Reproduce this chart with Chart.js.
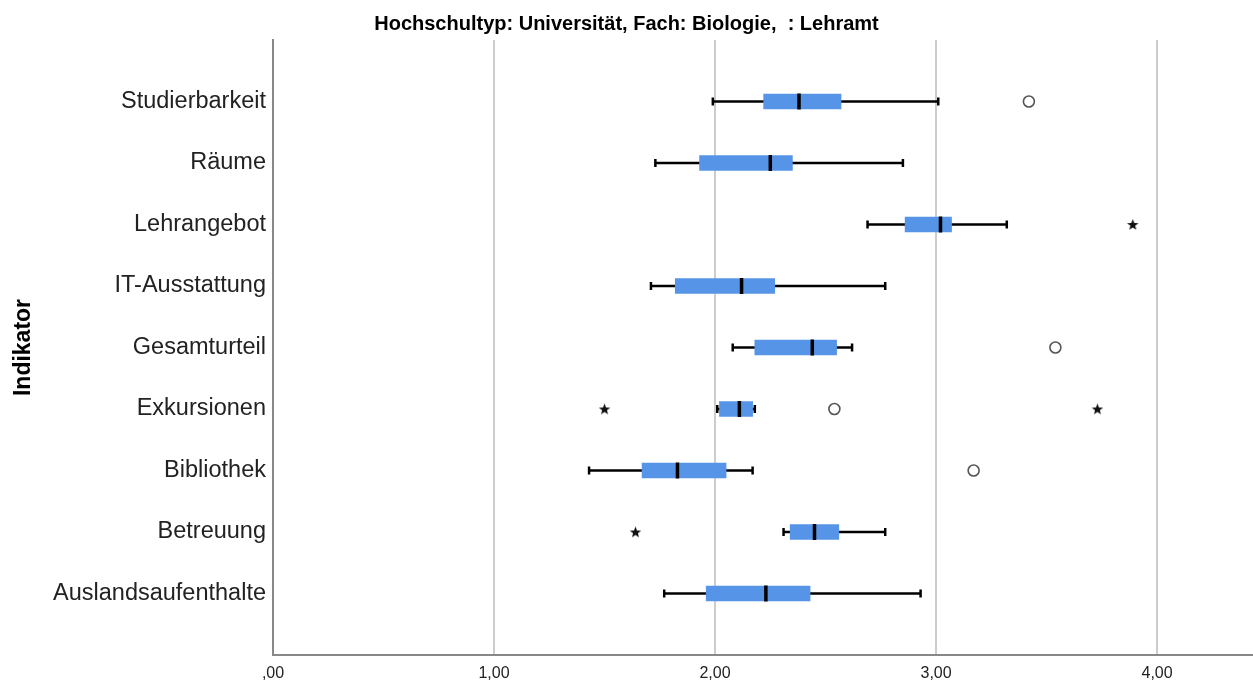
<!DOCTYPE html>
<html lang="de">
<head>
  <meta charset="UTF-8" />
  <title>Boxplot Indikatoren</title>
  <script src="https://cdn.jsdelivr.net/npm/chart.js"></script>
  <style>
    html, body {
      margin: 0;
      overflow: hidden;
      background: #fff;
    }

    .wrap {
      position: relative;
      width: 1253px;
      height: 684px;
    }

    canvas {
      display: block;
    }
  </style>
</head>
<body>

  <div class="wrap">
    <canvas id="boxChart"></canvas>
  </div>

  <script>
    const categories = ['Studierbarkeit', 'Räume', 'Lehrangebot', 'IT-Ausstattung', 'Gesamturteil',
      'Exkursionen', 'Bibliothek', 'Betreuung', 'Auslandsaufenthalte'];

    const whiskerLow  = [1.99, 1.73, 2.69, 1.71, 2.08, 2.01, 1.43, 2.31, 1.77];
    const q1          = [2.22, 1.93, 2.86, 1.82, 2.18, 2.02, 1.67, 2.34, 1.96];
    const median      = [2.38, 2.25, 3.02, 2.12, 2.44, 2.11, 1.83, 2.45, 2.23];
    const q3          = [2.57, 2.35, 3.07, 2.27, 2.55, 2.17, 2.05, 2.56, 2.43];
    const whiskerHigh = [3.01, 2.85, 3.32, 2.77, 2.62, 2.18, 2.17, 2.77, 2.93];

    // circles = outliers, stars = extreme values
    const outliers = [[3.42], [], [], [], [3.54], [2.54], [3.17], [], []];
    const extremes = [[], [], [3.89], [], [], [1.50, 3.73], [], [1.64], []];

    const xTicks = [0, 1, 2, 3, 4];
    const xMax = 4.434;

    // rows sit at 1..9 on a 0..10 axis
    const rowPos = i => i + 1;

    const boxData = categories.map((c, i) => ({ x: [q1[i], q3[i]], y: rowPos(i) }));
    const whiskerData = categories.map((c, i) => ({ x: [whiskerLow[i], whiskerHigh[i]], y: rowPos(i) }));
    const capData = [];
    categories.forEach((c, i) => {
      capData.push({ x: whiskerLow[i], y: rowPos(i) });
      capData.push({ x: whiskerHigh[i], y: rowPos(i) });
    });
    const medianData = categories.map((c, i) => ({ x: median[i], y: rowPos(i) }));
    const outlierData = [];
    outliers.forEach((vals, i) => vals.forEach(v => outlierData.push({ x: v, y: rowPos(i) })));
    const extremeData = [];
    extremes.forEach((vals, i) => vals.forEach(v => extremeData.push({ x: v, y: rowPos(i) })));

    // small filled star for extreme values
    const star = document.createElement('canvas');
    star.width = 13;
    star.height = 13;
    const sctx = star.getContext('2d');
    sctx.beginPath();
    for (let k = 0; k < 10; k++) {
      const r = k % 2 === 0 ? 6 : 2.5;
      const a = -Math.PI / 2 + k * Math.PI / 5;
      const px = 6.5 + r * Math.cos(a);
      const py = 7 + r * Math.sin(a);
      if (k === 0) sctx.moveTo(px, py); else sctx.lineTo(px, py);
    }
    sctx.closePath();
    sctx.fillStyle = '#111';
    sctx.fill();

    const fmt = v => {
      const s = v.toFixed(2).replace('.', ',');
      return s.startsWith('0') ? s.slice(1) : s;
    };

    new Chart(document.getElementById('boxChart'), {
      type: 'bar',
      data: {
        datasets: [
          {
            data: whiskerData,
            backgroundColor: '#000',
            barThickness: 2,
            grouped: false,
            order: 5
          },
          {
            data: boxData,
            backgroundColor: '#5594e6',
            barThickness: 15,
            grouped: false,
            order: 4
          },
          {
            type: 'scatter',
            data: capData,
            pointStyle: 'line',
            rotation: 90,
            radius: 4,
            borderWidth: 2.5,
            borderColor: '#000',
            order: 3
          },
          {
            type: 'scatter',
            data: medianData,
            pointStyle: 'line',
            rotation: 90,
            radius: 8,
            borderWidth: 3.5,
            borderColor: '#000',
            order: 1
          },
          {
            type: 'scatter',
            data: outlierData,
            pointStyle: 'circle',
            radius: 5.5,
            borderWidth: 1.6,
            borderColor: '#555',
            backgroundColor: '#fff',
            order: 2
          },
          {
            type: 'scatter',
            data: extremeData,
            pointStyle: star,
            order: 2
          }
        ]
      },
      options: {
        indexAxis: 'y',
        responsive: true,
        maintainAspectRatio: false,
        animation: false,
        layout: { padding: 0, autoPadding: false },
        plugins: {
          legend: { display: false },
          tooltip: { enabled: false },
          title: {
            display: true,
            text: 'Hochschultyp: Universität, Fach: Biologie,  : Lehramt',
            color: '#000',
            font: { family: 'Liberation Sans, Arial, sans-serif', size: 20, weight: 'bold' },
            padding: { top: 12, bottom: 4 }
          }
        },
        scales: {
          x: {
            type: 'linear',
            min: 0,
            max: xMax,
            afterBuildTicks: s => { s.ticks = xTicks.map(v => ({ value: v })); },
            afterFit: s => {
              s.height = 29;
              s.paddingLeft = 0;
              s.paddingRight = 0;
            },
            grid: { color: '#cccccc', lineWidth: 2, drawTicks: false },
            border: { color: '#888', width: 2 },
            ticks: {
              padding: 9,
              color: '#222',
              font: { family: 'Liberation Sans, Arial, sans-serif', size: 16 },
              callback: v => fmt(v)
            }
          },
          y: {
            type: 'linear',
            min: 0,
            max: 10,
            reverse: true,
            offset: false,
            afterBuildTicks: s => { s.ticks = categories.map((c, i) => ({ value: rowPos(i) })); },
            afterFit: s => { s.width = 273; },
            grid: { display: false, drawTicks: false },
            border: { color: '#888', width: 2 },
            title: {
              display: true,
              text: 'Indikator',
              color: '#000',
              font: { family: 'Liberation Sans, Arial, sans-serif', size: 23, weight: 'bold' },
              padding: { top: 10, bottom: 0 }
            },
            ticks: {
              padding: 7,
              color: '#222',
              font: { family: 'Liberation Sans, Arial, sans-serif', size: 23.5 },
              callback: v => categories[v - 1]
            }
          }
        }
      }
    });
  </script>
</body>
</html>
